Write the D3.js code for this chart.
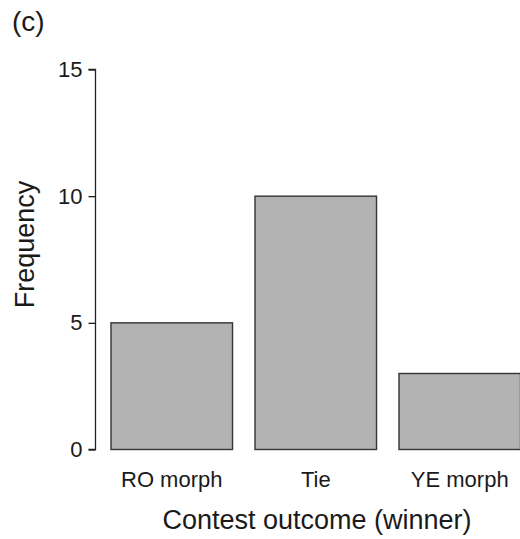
<!DOCTYPE html>
<html>
<head>
<meta charset="utf-8">
<script src="https://cdn.jsdelivr.net/npm/d3@7"></script>
<style>
  html, body { margin: 0; padding: 0; background: #fff; }
  svg { display: block; font-family: "Liberation Sans", Arial, sans-serif; }
</style>
</head>
<body>
<svg id="chart" width="520" height="539"></svg>
<script>
const categories = ["RO morph", "Tie", "YE morph"];
const frequencies = [5, 10, 3];
const yTicks = [0, 5, 10, 15];
const panelLabel = "(c)";
const xTitle = "Contest outcome (winner)";
const yTitle = "Frequency";

const svg = d3.select("#chart");

const x = d3.scaleBand()
  .domain(categories)
  .range([99.75, 531.75])
  .paddingInner(0.156)
  .paddingOuter(0.078);

const y = d3.scaleLinear().domain([0, 15]).range([449.5, 69.5]);

// bars
svg.append("g").selectAll("rect")
  .data(categories)
  .join("rect")
  .attr("x", d => x(d))
  .attr("y", (d, i) => y(frequencies[i]))
  .attr("width", x.bandwidth())
  .attr("height", (d, i) => y(0) - y(frequencies[i]))
  .attr("fill", "#b3b3b3")
  .attr("stroke", "#333")
  .attr("stroke-width", 1.4);

// y axis
const yAxis = d3.axisLeft(y).tickValues(yTicks).tickSize(7).tickPadding(6).tickFormat(d3.format("d"));
const gy = svg.append("g").attr("transform", "translate(95.5,0)").call(yAxis);
gy.select(".domain").attr("stroke", "#222").attr("stroke-width", 1.3).attr("d", `M-7,${y(15)}H0V${y(0)}H-7`);
gy.selectAll(".tick line").attr("stroke", "#222").attr("stroke-width", 1.3);
gy.selectAll(".tick text")
  .attr("font-size", 22)
  .attr("fill", "#1a1a1a")
  .attr("font-family", "Liberation Sans, Arial, sans-serif");

// x category labels
svg.append("g").selectAll("text")
  .data(categories)
  .join("text")
  .attr("x", d => x(d) + x.bandwidth() / 2)
  .attr("y", 487)
  .attr("text-anchor", "middle")
  .attr("font-size", 22)
  .attr("fill", "#1a1a1a")
  .text(d => d);

// x title
svg.append("text")
  .attr("x", 317)
  .attr("y", 529)
  .attr("text-anchor", "middle")
  .attr("font-size", 27)
  .attr("fill", "#1a1a1a")
  .text(xTitle);

// y title
svg.append("text")
  .attr("transform", "translate(34,244.5) rotate(-90)")
  .attr("text-anchor", "middle")
  .attr("font-size", 27)
  .attr("fill", "#1a1a1a")
  .text(yTitle);

// panel label
svg.append("text")
  .attr("x", 12)
  .attr("y", 31)
  .attr("font-size", 28)
  .attr("fill", "#1a1a1a")
  .text(panelLabel);
</script>
</body>
</html>
